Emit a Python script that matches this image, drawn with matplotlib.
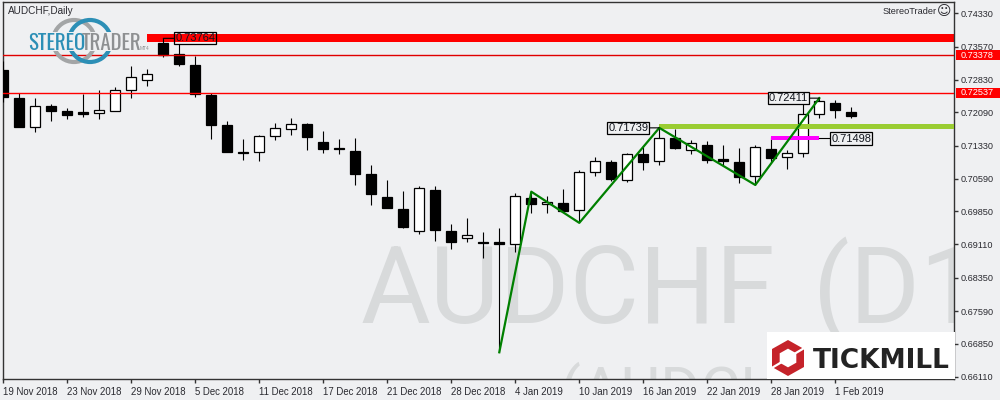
import matplotlib
matplotlib.use("Agg")
import matplotlib.pyplot as plt
from matplotlib.patches import Rectangle, Arc, Polygon
from matplotlib.transforms import blended_transform_factory
import numpy as np

plt.rcParams['font.family'] = ['Liberation Sans', 'DejaVu Sans']

# daily candles
opens = [0.73048,0.72407,0.71751,0.72226,0.72113,0.72091,0.72068,0.72113,0.72588,0.72815,
         0.73658,0.73410,0.73161,0.72482,0.71804,0.71193,0.71186,0.71548,0.71706,0.71826,
         0.71412,0.71283,0.71216,0.70695,0.70175,0.69904,0.69399,0.70327,0.69406,0.69241,
         0.69146,0.69150,0.69119,0.70152,0.70010,0.70039,0.69874,0.70734,0.70960,0.70566,
         0.71148,0.70983,0.71503,0.71245,0.71351,0.71035,0.70967,0.70643,0.71254,0.71073,
         0.71164,0.72046,0.72301,0.72098]
closes = [0.72444,0.71765,0.72226,0.72127,0.72036,0.72059,0.72136,0.72588,0.72883,0.72950,
          0.73387,0.73190,0.72512,0.71810,0.71200,0.71177,0.71555,0.71729,0.71820,0.71539,
          0.71268,0.71250,0.70702,0.70250,0.69933,0.69497,0.70372,0.69435,0.69164,0.69309,
          0.69135,0.69119,0.70191,0.70024,0.70055,0.69865,0.70734,0.70983,0.70589,0.71141,
          0.70974,0.71503,0.71290,0.71390,0.71019,0.70996,0.70634,0.71299,0.71064,0.71164,
          0.72046,0.72340,0.72150,0.72014]
highs = [0.73251,0.72534,0.72407,0.72278,0.72181,0.72505,0.72595,0.72656,0.73138,0.73070,
         0.73764,0.73636,0.73371,0.72521,0.71894,0.71487,0.71577,0.71849,0.71962,0.71849,
         0.71668,0.71487,0.71503,0.70899,0.70560,0.70311,0.70424,0.70424,0.69564,0.69700,
         0.69377,0.69467,0.70259,0.70295,0.70198,0.70356,0.70786,0.71080,0.71012,0.71170,
         0.71313,0.71739,0.71713,0.71464,0.71442,0.71351,0.71283,0.71351,0.71539,0.71238,
         0.72407,0.72411,0.72369,0.72204]
lows = [0.72330,0.71758,0.71652,0.71901,0.71939,0.71991,0.71946,0.72113,0.72421,0.72693,
        0.73349,0.73145,0.72437,0.71494,0.71200,0.71019,0.70996,0.71471,0.71584,0.71245,
        0.71177,0.71148,0.70453,0.70001,0.69933,0.69481,0.69345,0.69187,0.69006,0.69164,
        0.68802,0.66662,0.68938,0.69820,0.69820,0.69865,0.69616,0.70657,0.70544,0.70521,
        0.70786,0.70906,0.71261,0.71155,0.70951,0.70899,0.70499,0.70447,0.70974,0.70815,
        0.71087,0.71969,0.71969,0.71969]

zigzag_bars = [31, 33, 36, 41, 47, 51]
zigzag_vals = [0.66662, 0.70295, 0.69590, 0.71739, 0.70447, 0.72411]

ytick_vals = [0.74330,0.73570,0.72830,0.72090,0.71330,0.70590,0.69850,0.69110,0.68350,0.67590,0.66850,0.66110]
date_bars = [0,4,8,12,16,20,24,28,32,36,40,44,48,52]
date_labels = ["19 Nov 2018","23 Nov 2018","29 Nov 2018","5 Dec 2018","11 Dec 2018","17 Dec 2018",
               "21 Dec 2018","28 Dec 2018","4 Jan 2019","10 Jan 2019","16 Jan 2019","22 Jan 2019",
               "28 Jan 2019","1 Feb 2019"]

bg = "#eff0f2"
txt = "#2a2a30"

fig = plt.figure(figsize=(10,4), dpi=100, facecolor=bg)
ax = fig.add_axes([0.0025, 21/400, 0.952, 377/400], facecolor=bg)
ax.set_xlim(-0.05, 59.45)
ax.set_ylim(0.66058, 0.74586)
for s in ax.spines.values():
    s.set_color("#333333")
    s.set_linewidth(1.0)

# watermark
ax.text(22.3, 0.67325, "AUDCHF", color="#d8dadb", fontsize=77, family="Roboto",
        va="baseline", ha="left", clip_on=True, zorder=0)
ax.text(50.6, 0.67325, "(D1)", color="#d8dadb", fontsize=77, family="Roboto",
        va="baseline", ha="left", clip_on=True, zorder=0)
ax.text(34.8, 0.65341, "(AUDCHF)", color="#d8dadb", fontsize=44, family="Roboto",
        va="baseline", ha="left", clip_on=True, zorder=0)

# candles
x = np.arange(len(opens))
o, c, h, l = map(np.array, (opens, closes, highs, lows))
ax.vlines(x, l, h, color="black", linewidth=0.8, zorder=3)
up = c >= o
ax.bar(x[up], (c-o)[up], bottom=o[up], width=0.62, facecolor="white", edgecolor="black", linewidth=0.9, zorder=4)
ax.bar(x[~up], (c-o)[~up], bottom=o[~up], width=0.62, facecolor="black", edgecolor="black", linewidth=0.9, zorder=4)

# zones
ax.fill_between([9, 59.45], 0.73681, 0.73862, color="#ff0000", linewidth=0, zorder=2)
ax.fill_between([41, 59.45], 0.71707, 0.71833, color="#9acd32", linewidth=0, zorder=5)
ax.fill_between([48, 51], 0.71471, 0.71555, color="#ff00ff", linewidth=0, zorder=5)
ax.axhline(0.73378, color="#e00000", linewidth=1.0, zorder=5)
ax.axhline(0.72537, color="#ff0000", linewidth=1.0, zorder=5)

ax.plot(zigzag_bars, zigzag_vals, color="#008000", linewidth=1.6, zorder=6)

# price boxes
def price_box(bar, val, offs, ha, fc):
    ax.annotate(f"{val:.5f}", xy=(bar, val), xytext=(offs, 0), textcoords="offset pixels",
                ha=ha, va="center", fontsize=8, color="#10141c", zorder=7,
                bbox=dict(boxstyle="square,pad=0.1", fc=fc, ec="black", lw=0.9),
                arrowprops=dict(arrowstyle="-", color="black", lw=0.8, shrinkA=0, shrinkB=0))

price_box(10, 0.73764, 12, "left", "none")
price_box(41, 0.71739, -11, "right", bg)
price_box(51, 0.72411, -11, "right", bg)
price_box(51, 0.71498, 12, "left", bg)

# axis ticks
ax.yaxis.tick_right()
ax.set_yticks(ytick_vals)
ax.set_yticklabels([f"{v:.5f}" for v in ytick_vals], fontsize=6.6, color=txt)
ax.tick_params(axis="y", length=3, width=1, pad=1.5, color="#333333")
ax.set_xticks(date_bars)
ax.set_xticklabels(date_labels, fontsize=6.9, color=txt, ha="left")
ax.tick_params(axis="x", length=3, width=1, pad=3, color="#333333")

# red price tags on the axis
tr = blended_transform_factory(ax.transAxes, ax.transData)
for v in [0.73378, 0.72537]:
    ax.add_patch(Rectangle((1.0012, v-0.00113), 0.05, 0.00226, transform=tr, facecolor="#ff0000",
                           edgecolor="none", clip_on=False, zorder=8))
    ax.text(1.0065, v, f"{v:.5f}", transform=tr, color="white", fontsize=6.6, va="center",
            ha="left", clip_on=False, zorder=9)

# overlay in pixel coordinates for captions and logos
ov = fig.add_axes([0, 0, 1, 1], facecolor="none")
ov.set_xlim(0, 1000)
ov.set_ylim(400, 0)
ov.axis("off")
ov.text(8, 11, "AUDCHF,Daily", fontsize=7.2, color=txt, va="center", ha="left")
ov.text(882.5, 11.5, "StereoTrader", fontsize=6.7, color=txt, va="center", ha="left")
ov.text(937, 11.5, "\u263a", fontsize=10, color=txt, va="center", ha="left", family="DejaVu Sans")

# stereotrader logo
for cx, col in [(74, "#a3a5a6"), (90, "#2c8fb6")]:
    ov.add_patch(Arc((cx, 41), 42, 42, theta1=200, theta2=340, color=col, lw=3))
    ov.add_patch(Arc((cx, 41), 42, 42, theta1=20, theta2=160, color=col, lw=3))
ov.add_patch(Rectangle((27, 31.5), 112, 19.5, facecolor=bg, edgecolor="none"))
logo_font = ["Oswald", "Liberation Sans"]
ov.text(28, 50, "STEREO", fontsize=15, fontweight="bold", color="#2c8fb6", va="baseline", family=logo_font)
ov.text(82, 50, "TRADER", fontsize=15, fontweight="bold", color="#8e9092", va="baseline", family=logo_font)
ov.text(140, 50, "MT4", fontsize=3.5, color="#8e9092", va="baseline")

# tickmill logo
ov.add_patch(Rectangle((767, 332), 187.5, 47, facecolor="white", edgecolor="none"))
hex_x = np.array([0, 16, 16, 0, -16, -16])
hex_y = np.array([-18, -9, 9, 18, 9, -9])
ov.add_patch(Polygon(np.c_[788+hex_x, 358+hex_y], facecolor="#c5232a", edgecolor="none"))
ov.add_patch(Polygon(np.c_[788+hex_x*0.52, 358+hex_y*0.52], facecolor="white", edgecolor="none"))
ov.plot([770, 781], [369, 362.5], color="white", lw=1.6)
ov.plot([806, 795], [347, 353.5], color="white", lw=1.6)
ov.text(813, 367.7, "TICKMILL", fontsize=19, fontweight="bold", color="#232323", va="baseline",
        ha="left", family="DejaVu Sans")

fig.savefig("out.png", dpi=100, facecolor=bg)
